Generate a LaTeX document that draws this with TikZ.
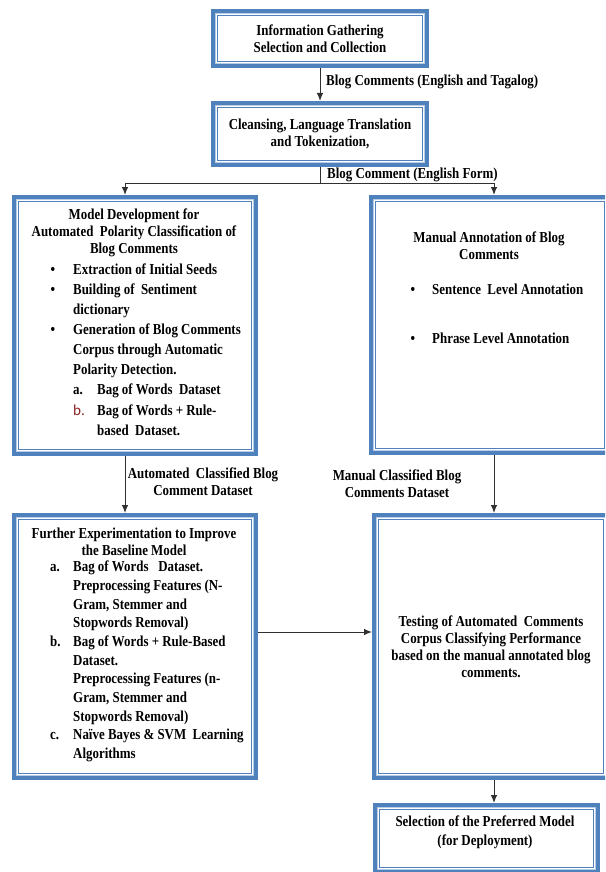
\documentclass[tikz,border=0pt]{standalone}
\usepackage{fontspec}
\setmainfont{Liberation Serif}[FakeStretch=0.85]
\newfontfamily\calib{Carlito}
\usetikzlibrary{arrows.meta}
\definecolor{boxblue}{HTML}{4F81BD}
\definecolor{lightblue}{HTML}{B8CCE4}
\definecolor{darkred}{HTML}{8B2323}
\definecolor{linegray}{HTML}{303030}
\begin{document}
\begin{tikzpicture}[x=1pt,y=-1pt,
  bbox/.style={draw=boxblue, line width=4pt, inner sep=0pt, fill=white, align=center,
    font=\bfseries\fontsize{15.2}{17}\selectfont,
    path picture={
      \draw[lightblue, line width=1pt] ([shift={(2.6pt,2.6pt)}]path picture bounding box.south west) rectangle ([shift={(-2.6pt,-2.6pt)}]path picture bounding box.north east);
      \draw[boxblue, line width=1.2pt] ([shift={(4.7pt,4.7pt)}]path picture bounding box.south west) rectangle ([shift={(-4.7pt,-4.7pt)}]path picture bounding box.north east);}},
  txt/.style={inner sep=0pt, font=\bfseries\fontsize{15.2}{17}\selectfont, align=center},
  listtxt/.style={inner sep=0pt, align=left, anchor=west},
  arr/.style={draw=linegray, line width=1pt, -{Latex[length=8pt,width=6.5pt]}},
  ln/.style={draw=linegray, line width=1pt}]
\useasboundingbox (0,0) rectangle (605,872);
\clip (0,0) rectangle (605,872);
\fill[white] (0,0) rectangle (605,872);

% boxes
\node[bbox, minimum width=214pt, minimum height=55pt] (info) at (320,38.5)
  {Information Gathering\\Selection and Collection};
\node[bbox, minimum width=214pt, minimum height=62pt] (clean) at (320,134)
  {Cleansing, Language Translation\\and Tokenization,};
\node[bbox, minimum width=242pt, minimum height=257pt] (model) at (135,325.5) {};
\node[bbox, minimum width=238pt, minimum height=256pt] (manual) at (490,325) {};
\node[bbox, minimum width=242pt, minimum height=263pt] (further) at (135,646.5) {};
\node[bbox, minimum width=234pt, minimum height=263pt] (testing) at (491,646.5)
  {Testing of Automated\ \ Comments\\Corpus Classifying Performance\\based on the manual annotated blog\\comments.};
\node[bbox, minimum width=223pt, minimum height=67pt] (select) at (486.5,838.5) {};

% texts inside boxes
\node[txt] (modelt) at (134,233) {Model Development for\\Automated\ \ Polarity Classification of\\Blog Comments};
\node[listtxt, font=\bfseries\fontsize{15.2}{20.1}\selectfont] (modell) at (73,349.5)
  {\llap{\textbullet\hspace{18pt}}Extraction of Initial Seeds\\
   \llap{\textbullet\hspace{18pt}}Building of\ \ Sentiment\\
   dictionary\\
   \llap{\textbullet\hspace{18pt}}Generation of Blog Comments\\
   Corpus through Automatic\\
   Polarity Detection.\\
   \makebox[24pt][l]{a.}Bag of Words\ \ Dataset\\
   \makebox[24pt][l]{{\calib\mdseries\color{darkred}b.}}Bag of Words + Rule-\\
   \hspace*{24pt}based\ \ Dataset.};

\node[txt] (manualt) at (489,245.5) {Manual Annotation of Blog\\Comments};
\node[listtxt, font=\bfseries\fontsize{15.2}{49}\selectfont] (manuall) at (432,313.5)
  {\llap{\textbullet\hspace{17pt}}Sentence\ \ Level Annotation\\
   \llap{\textbullet\hspace{17pt}}Phrase Level Annotation};

\node[txt] (furthert) at (134,542) {Further Experimentation to Improve\\the Baseline Model};
\node[listtxt, font=\bfseries\fontsize{15.2}{18.7}\selectfont] (furtherl) at (73,661.5)
  {\llap{\makebox[23pt][l]{a.}}Bag of Words\ \ \ Dataset.\\
   Preprocessing Features (N-\\
   Gram, Stemmer and\\
   Stopwords Removal)\\
   \llap{\makebox[23pt][l]{b.}}Bag of Words + Rule-Based\\
   Dataset.\\
   Preprocessing Features (n-\\
   Gram, Stemmer and\\
   Stopwords Removal)\\
   \llap{\makebox[23pt][l]{c.}}Naïve Bayes \& SVM\ \ Learning\\
   Algorithms};

\node[txt, font=\bfseries\fontsize{15.2}{19}\selectfont] (selectt) at (485,832.5)
  {Selection of the Preferred Model\\(for Deployment)};

% connector labels
\node[txt, anchor=west] (lab1) at (326,82) {Blog Comments (English and Tagalog)};
\node[txt, anchor=west] (lab2) at (327,175) {Blog Comment (English Form)};
\node[txt] (lab3) at (203,482) {Automated\ \ Classified Blog\\Comment Dataset};
\node[txt] (lab4) at (397,484) {Manual Classified Blog\\Comments Dataset};

% connectors
\coordinate (jl) at (125,183);
\coordinate (jr) at (494,183);
\coordinate (hh) at (300,632);
\draw[arr] (info.south) -- (clean.north);
\draw[ln] (clean.south) -- (clean.south |- jl);
\draw[ln] (jl) -- (jr);
\draw[arr] (jl) -- (jl |- model.north);
\draw[arr] (jr) -- (jr |- manual.north);
\draw[arr] (model.south -| jl) -- (further.north -| jl);
\draw[arr] (manual.south -| jr) -- (testing.north -| jr);
\draw[arr] (further.east |- hh) -- (testing.west |- hh);
\draw[arr] (testing.south -| jr) -- (select.north -| jr);
\end{tikzpicture}
\end{document}
